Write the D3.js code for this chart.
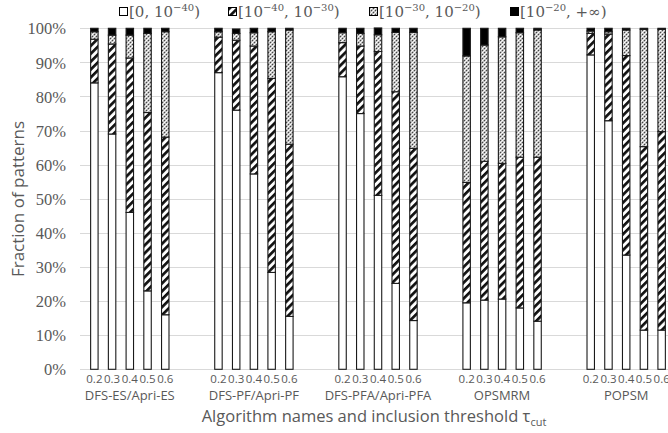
<!DOCTYPE html>
<html>
<head>
<meta charset="utf-8">
<script src="https://cdn.jsdelivr.net/npm/d3@7"></script>
<style>
  body { margin: 0; background: #fff; }
  svg { display: block; }
</style>
</head>
<body>
<div id="chart"></div>
<script>
// data: share of patterns in each p-value range
const groups = ["DFS-ES/Apri-ES", "DFS-PF/Apri-PF", "DFS-PFA/Apri-PFA", "OPSMRM", "POPSM"];
const thresholds = ["0.2", "0.3", "0.4", "0.5", "0.6"];
const rangeKeys = ["r40", "r30", "r20", "rInf"];

// one value per bar, group by group, threshold 0.2 .. 0.6
const share40 = [0.84, 0.69, 0.46, 0.23, 0.16,
                 0.87, 0.76, 0.573, 0.284, 0.155,
                 0.858, 0.75, 0.51, 0.252, 0.143,
                 0.195, 0.203, 0.206, 0.18, 0.141,
                 0.922, 0.729, 0.335, 0.115, 0.115];
const share30 = [0.128, 0.264, 0.453, 0.523, 0.521,
                 0.104, 0.205, 0.375, 0.569, 0.505,
                 0.10, 0.198, 0.422, 0.562, 0.505,
                 0.353, 0.407, 0.398, 0.442, 0.481,
                 0.063, 0.254, 0.585, 0.538, 0.582];
const share20 = [0.022, 0.026, 0.067, 0.232, 0.309,
                 0.016, 0.02, 0.039, 0.137, 0.335,
                 0.029, 0.037, 0.049, 0.174, 0.34,
                 0.371, 0.341, 0.371, 0.365, 0.373,
                 0.007, 0.007, 0.075, 0.344, 0.3];
const shareInf = [0.01, 0.02, 0.02, 0.015, 0.01,
                  0.01, 0.013, 0.013, 0.01, 0.005,
                  0.013, 0.015, 0.02, 0.012, 0.012,
                  0.081, 0.049, 0.025, 0.013, 0.005,
                  0.008, 0.01, 0.005, 0.003, 0.003];

// legend labels: [before, exp1, middle, exp2, after]
const legendParts = [
  ["[0, 10", "−40", ")", null, null],
  ["[10", "−40", ", 10", "−30", ")"],
  ["[10", "−30", ", 10", "−20", ")"],
  ["[10", "−20", ", +∞)", null, null]
];

var width = 668, height = 433;
var textColor = "#595959";

// category slots: 5 bars per group, two empty slots between groups
var slots = [];
groups.forEach(function(g, gi) {
  thresholds.forEach(function(t) { slots.push(g + "|" + t); });
  if (gi < groups.length - 1) { slots.push("gap" + gi + "a"); slots.push("gap" + gi + "b"); }
});

var rows = [];
groups.forEach(function(g, gi) {
  thresholds.forEach(function(t, ti) {
    var i = gi * thresholds.length + ti;
    rows.push({slot: g + "|" + t, group: g, thr: t,
               r40: share40[i], r30: share30[i], r20: share20[i], rInf: shareInf[i]});
  });
});

var x = d3.scaleBand()
    .domain(slots)
    .range([80, 676])
    .paddingInner(0.58)
    .paddingOuter(0.6);

var y = d3.scaleLinear()
    .domain([0, 1])
    .range([369.3, 28.3]);

var svg = d3.select("#chart")
  .append("svg")
    .attr("width", width)
    .attr("height", height);

// fill patterns
var defs = svg.append("defs");
var hatch = defs.append("pattern")
    .attr("id", "hatch")
    .attr("patternUnits", "userSpaceOnUse")
    .attr("width", 5.6)
    .attr("height", 5.6)
    .attr("patternTransform", "rotate(45)");
hatch.append("rect").attr("width", 5.6).attr("height", 5.6).attr("fill", "#fff");
hatch.append("rect").attr("width", 2.7).attr("height", 5.6).attr("fill", "#111");

var dots = defs.append("pattern")
    .attr("id", "dots")
    .attr("patternUnits", "userSpaceOnUse")
    .attr("width", 4)
    .attr("height", 4);
dots.append("rect").attr("width", 4).attr("height", 4).attr("fill", "#bdbdbd");
dots.append("rect").attr("x", 0).attr("y", 0).attr("width", 1).attr("height", 1).attr("fill", "#444");
dots.append("rect").attr("x", 2).attr("y", 2).attr("width", 1).attr("height", 1).attr("fill", "#444");
dots.append("rect").attr("x", 2).attr("y", 0).attr("width", 1).attr("height", 1).attr("fill", "#fff");
dots.append("rect").attr("x", 0).attr("y", 2).attr("width", 1).attr("height", 1).attr("fill", "#fff");
dots.append("rect").attr("x", 1).attr("y", 1).attr("width", 1).attr("height", 1).attr("fill", "#eee");
dots.append("rect").attr("x", 3).attr("y", 3).attr("width", 1).attr("height", 1).attr("fill", "#eee");

var fills = ["#fff", "url(#hatch)", "url(#dots)", "#000"];

// gridlines
svg.append("g")
  .selectAll("line")
  .data(y.ticks(10))
  .join("line")
    .attr("x1", 80)
    .attr("x2", width)
    .attr("y1", function(d) { return Math.round(y(d)) + 0.5; })
    .attr("y2", function(d) { return Math.round(y(d)) + 0.5; })
    .attr("stroke", "#d9d9d9")
    .attr("stroke-width", 1);

// y axis labels
var yAxis = svg.append("g")
    .attr("transform", "translate(80,0)")
    .call(d3.axisLeft(y).ticks(10, ".0%").tickSize(0).tickPadding(14));
yAxis.select(".domain").remove();
yAxis.selectAll("text")
    .attr("fill", textColor)
    .attr("dy", "0.34em")
    .style("font-family", "'Liberation Serif', 'Times New Roman', serif")
    .style("font-size", "16.5px");

// stacked bars
var stacked = d3.stack().keys(rangeKeys)(rows);
svg.append("g")
  .selectAll("g")
  .data(stacked)
  .join("g")
    .attr("fill", function(d, i) { return fills[i]; })
  .selectAll("rect")
  .data(function(d) { return d; })
  .join("rect")
    .attr("x", function(d) { return x(d.data.slot); })
    .attr("y", function(d) { return y(d[1]); })
    .attr("width", x.bandwidth())
    .attr("height", function(d) { return y(d[0]) - y(d[1]); })
    .attr("stroke", "#1a1a1a")
    .attr("stroke-width", 1.1);

// x tick labels (thresholds)
var xAxis = svg.append("g")
    .attr("transform", "translate(0,369.3)")
    .call(d3.axisBottom(x)
      .tickValues(rows.map(function(d) { return d.slot; }))
      .tickFormat(function(d) { return d.split("|")[1]; })
      .tickSize(0)
      .tickPadding(6));
xAxis.select(".domain").remove();
xAxis.selectAll("text")
    .attr("fill", textColor)
    .style("font-family", "'Open Sans', sans-serif")
    .style("font-size", "11.5px");

// group names
svg.append("g")
  .selectAll("text")
  .data(groups)
  .join("text")
    .attr("x", function(g) { return x(g + "|" + thresholds[2]) + x.bandwidth() / 2; })
    .attr("y", 400)
    .attr("text-anchor", "middle")
    .attr("fill", textColor)
    .style("font-family", "'Open Sans', sans-serif")
    .style("font-size", "13px")
    .text(function(g) { return g; });

// axis titles
var xTitle = svg.append("text")
    .attr("x", 374)
    .attr("y", 422)
    .attr("text-anchor", "middle")
    .attr("fill", textColor)
    .style("font-family", "'Open Sans', sans-serif")
    .style("font-size", "16.5px");
xTitle.append("tspan").text("Algorithm names and inclusion threshold τ");
xTitle.append("tspan").attr("dy", 4).style("font-size", "11px").text("cut");

svg.append("text")
    .attr("transform", "translate(24,199) rotate(-90)")
    .attr("text-anchor", "middle")
    .attr("fill", textColor)
    .style("font-family", "'Open Sans', sans-serif")
    .style("font-size", "17px")
    .text("Fraction of patterns");

// legend
var legendX = [119, 228, 369, 510];
var legend = svg.append("g")
  .selectAll("g")
  .data(legendParts)
  .join("g")
    .attr("transform", function(d, i) { return "translate(" + legendX[i] + ",0)"; });

legend.append("rect")
    .attr("x", 0.5)
    .attr("y", 7.5)
    .attr("width", 8)
    .attr("height", 8)
    .attr("fill", function(d, i) { return fills[i]; })
    .attr("stroke", "#000")
    .attr("stroke-width", 1);

var ltext = legend.append("text")
    .attr("x", 10)
    .attr("y", 17)
    .attr("fill", textColor)
    .style("font-family", "'DejaVu Serif', serif")
    .style("font-size", "15px");
ltext.each(function(parts) {
  var t = d3.select(this);
  parts.forEach(function(p, k) {
    if (p == null) return;
    var ts = t.append("tspan").text(p);
    if (k % 2 == 1) {
      ts.attr("dy", -6).style("font-size", "10px");
    } else if (k > 0) {
      ts.attr("dy", 6);
    }
  });
});
</script>
</body>
</html>
